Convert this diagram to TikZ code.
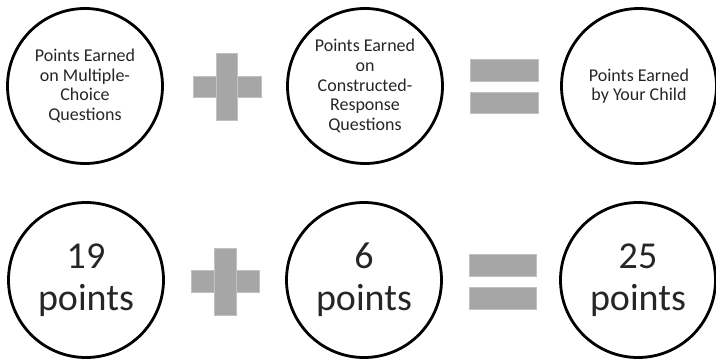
\documentclass[tikz,border=0pt]{standalone}
\usepackage{fontspec}
\setmainfont{Carlito}
\definecolor{opgray}{RGB}{166,166,166}
\definecolor{txt}{RGB}{38,38,38}
\tikzset{
  x=1pt, y=-1pt,
  circ/.style={circle, draw=black, line width=2.8pt, minimum size=155pt, inner sep=0pt, align=center, text=txt},
  small/.style={font=\fontsize{18}{19.6}\selectfont},
  big/.style={font=\fontsize{38}{42}\selectfont},
  opfill/.style={fill=opgray, draw=opgray!70!white, line width=0.6pt}
}
\begin{document}
\begin{tikzpicture}
\useasboundingbox (0,0) rectangle (716,362);
% top row
\node[circ, small] (mc) at (85,86) {Points Earned\\on Multiple-\\Choice\\Questions};
\node[circ, small] (cr) at (365,86) {Points Earned\\on\\Constructed-\\Response\\Questions};
\node[circ, small] (tot) at (639,86) {Points Earned\\by Your Child};
% bottom row
\node[circ, big] (mcv) at (86,280) {19\\points};
\node[circ, big] (crv) at (364,280) {6\\points};
\node[circ, big] (totv) at (638,280) {25\\points};
% top plus
\fill[opfill] (193,76) rectangle (261,97);
\fill[opfill] (216,53) rectangle (237,120);
% top equals
\fill[opfill] (470,59) rectangle (538,81);
\fill[opfill] (470,92) rectangle (538,113);
% bottom plus
\fill[opfill] (191,270) rectangle (259,292);
\fill[opfill] (214,248) rectangle (236,315);
% bottom equals
\fill[opfill] (469,254) rectangle (536,276);
\fill[opfill] (469,287) rectangle (536,309);
\end{tikzpicture}
\end{document}
